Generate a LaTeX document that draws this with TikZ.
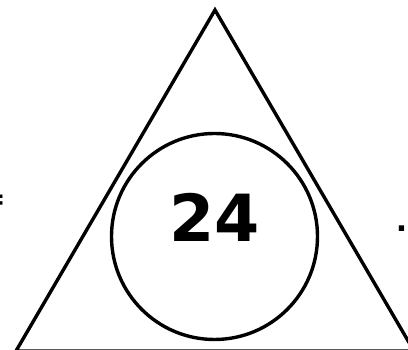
\documentclass[tikz,border=0pt]{standalone}
\usepackage{fontspec}
\setmainfont{DejaVu Sans}
\begin{document}
\begin{tikzpicture}[x=1pt,y=-1pt,
  shape line/.style={draw=black,line width=3.4pt,line join=miter},
  txt/.style={inner sep=0pt,font=\bfseries}]
\useasboundingbox (0,0) rectangle (408,350);
\coordinate (apex) at (215,10);
\coordinate (bl) at (16,351);
\coordinate (br) at (414,351);
\draw[shape line] (apex) -- (bl) -- (br) -- cycle;
\node[shape line,circle,minimum size=206pt,inner sep=0pt] (ring) at (214.5,236.5) {};
\node[txt,anchor=base,font=\bfseries\fontsize{65}{65}\selectfont] (num) at (214.5,242) {24};
\node[txt,anchor=base east,font=\bfseries\fontsize{30}{30}\selectfont] (eq) at (6,210) {=};
\node[txt,anchor=base,font=\bfseries\fontsize{30}{30}\selectfont] (dot) at (401.5,232) {.};
\end{tikzpicture}
\end{document}
